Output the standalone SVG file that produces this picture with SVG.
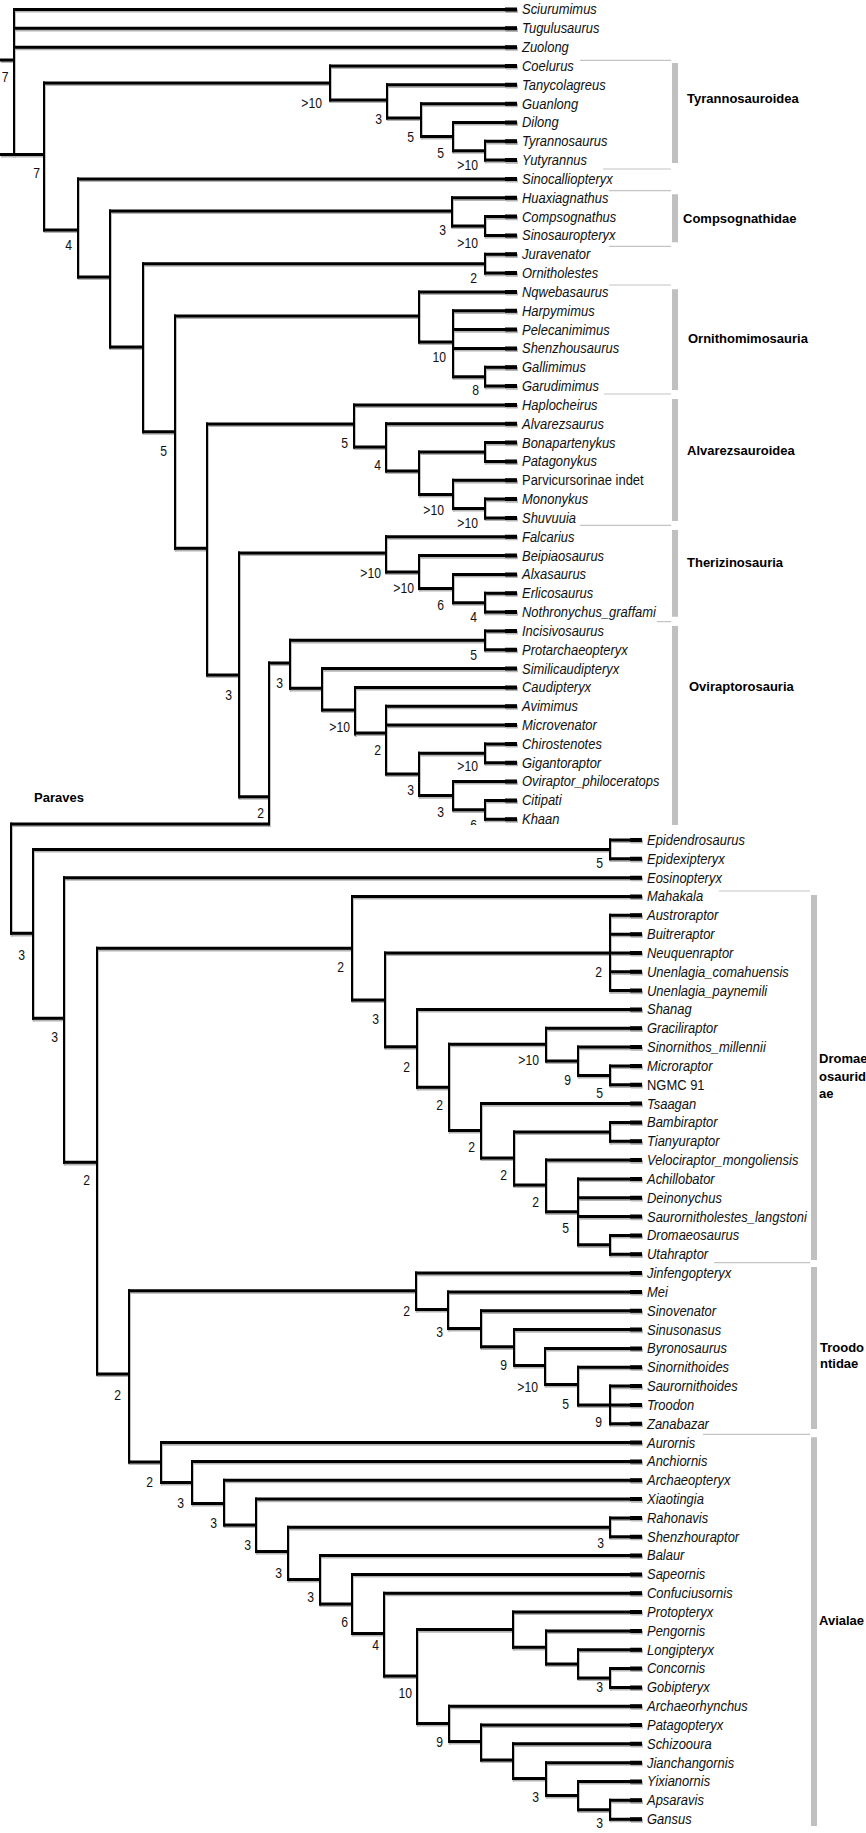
<svg xmlns="http://www.w3.org/2000/svg" xmlns:xlink="http://www.w3.org/1999/xlink" width="866" height="1833" viewBox="0 0 866 1833">
<style>
.t{font-family:"Liberation Sans",Arial,sans-serif;font-size:14.4px;font-style:italic;fill:#111}
.tn{font-style:normal}
.n{font-family:"Liberation Sans",Arial,sans-serif;font-size:14px;text-anchor:end;fill:#111}
.g{font-family:"Liberation Sans",Arial,sans-serif;font-size:13px;font-weight:bold;fill:#000}
.h{stroke-width:3;fill:none}
.e{stroke-width:4;fill:none}
.v{stroke-width:2;fill:none}
.br{stroke:#c0c0c0;stroke-width:6;fill:none}
.thin{stroke:#c4c4c4;stroke-width:1.2;fill:none}
</style>
<defs>
<clipPath id="topclip"><rect x="0" y="0" width="866" height="825"/></clipPath>
</defs>
<rect width="866" height="1833" fill="#fff"/>

<use xlink:href="#connectors" href="#connectors" transform="translate(0.8,1.6)" stroke="#b4b4b4"/>
<g stroke="#000">
<g id="connectors">
<path class="h" d="M0 60H14M13 9.5H517M13 28.3H517M13 47.2H517M0 154.5H44M43 83H330M43 230H78M329 66H517M329 100H387M386 84.8H517M386 118H421M420 103.7H517M420 136.5H453M452 122.5H517M452 150.7H485M484 141.3H517M484 160.1H517"/>
<path class="v" d="M14 8V156M44 81.5V231.5M330 64.5V101.5M387 83.3V119.5M421 102.2V138M453 121V152.2M485 139.8V161.6"/>
<path class="h" d="M77 179H517M77 277H110M109 211H452M109 347H143M451 197.8H517M451 226H485M484 216.6H517M484 235.5H517M142 263.7H485M142 431.7H175M484 254.3H517M484 273.1H517"/>
<path class="v" d="M78 177.5V278.5M110 209.5V348.5M452 196.3V227.5M485 215.1V237M143 262.2V433.2M485 252.8V274.6"/>
<path class="h" d="M174 316H419M174 548.3H207M418 291.9H517M418 342H453M452 310.8H517M452 329.6H517M452 348.4H517M452 376.7H485M484 367.3H517M484 386.1H517"/>
<path class="v" d="M175 314.5V549.8M419 290.4V343.5M453 309.3V378.2M485 365.8V387.6"/>
<path class="h" d="M206 424H354M206 675H239M353 404.9H517M353 447H386M385 423.8H517M385 471H419M418 452H485M418 494.4H453M484 442.6H517M484 461.4H517M452 480.3H517M452 508.5H485M484 499.1H517M484 517.9H517"/>
<path class="v" d="M207 422.5V676.5M354 403.4V448.5M386 422.3V472.5M419 450.5V495.9M485 441.1V462.9M453 478.8V510M485 497.6V519.4"/>
<path class="h" d="M238 553H386M238 796.7H269M385 536.7H517M385 572H419M418 555.6H517M418 588.5H453M452 574.4H517M452 602.7H485M484 593.2H517M484 612.1H517"/>
<path class="v" d="M239 551.5V798.2M386 535.2V573.5M419 554.1V590M453 572.9V604.2M485 591.7V613.6"/>
<path class="h" d="M268 663H290M11 824H269M289 640.3H485M289 688.3H322M484 630.9H517M484 649.7H517M321 668.6H517M321 710H355M354 687.4H517M354 733H386M385 706.2H517M385 725H517M385 774H419M418 753.3H485M418 795.6H453M484 743.9H517M484 762.7H517M452 781.5H517M452 809.8H485M484 800.4H517M484 819.2H517"/>
<path class="v" d="M269 661.5V825.5M290 638.8V689.8M485 629.4V651.2M322 667.1V711.5M355 685.9V735.5M386 704.7V775.5M419 751.8V797.1M485 742.4V764.2M453 780V811.3M485 798.9V820.7"/>
<path class="h" d="M10 933.3H33M32 849.4H610M32 1018.3H64M609 840H642M609 858.8H642M63 877.7H642M63 1162.3H97M96 948.3H352M96 1374H129"/>
<path class="v" d="M11 822.5V934.8M33 848V1019.8M610 838.5V860.3M64 876.2V1163.8M97 946.8V1375.5"/>
<path class="h" d="M351 896.5H642M351 1000H385M384 953H610M384 1046.7H417M609 915.3H642M609 934.2H642M609 953H642M609 971.8H642M609 990.6H642M416 1009.5H642M416 1087.3H449M448 1044.2H546M448 1130.5H481M545 1028.3H642M545 1061H578M577 1047.1H642M577 1075.4H610M609 1066H642M609 1084.8H642M480 1103.6H642M480 1158H514M513 1131.9H610M513 1185H546M609 1122.5H642M609 1141.3H642M545 1160.1H642M545 1211.8H578M577 1178.9H642M577 1197.8H642M577 1216.6H642M577 1244.8H610M609 1235.4H642M609 1254.3H642"/>
<path class="v" d="M352 895V1001.5M385 951.5V1048.2M610 913.8V992.1M417 1008V1088.8M449 1042.7V1132M546 1026.8V1062.5M578 1045.6V1076.9M610 1064.5V1086.3M481 1102.1V1159.5M514 1130.4V1186.5M610 1121V1142.8M546 1158.6V1213.3M578 1177.4V1246.3M610 1233.9V1255.8"/>
<path class="h" d="M128 1290.7H416M128 1462H161M415 1273.1H642M415 1309.5H448M447 1291.9H642M447 1328.5H481M480 1310.8H642M480 1346.8H514M513 1329.6H642M513 1365.5H545M544 1348.4H642M544 1384.5H578M577 1367.2H642M577 1404.9H610M609 1386.1H642M609 1404.9H642M609 1423.7H642"/>
<path class="v" d="M129 1289.2V1463.5M416 1271.6V1311M448 1290.4V1330M481 1309.3V1348.3M514 1328.1V1367M545 1346.9V1386M578 1365.7V1406.4M610 1384.6V1425.2"/>
<path class="h" d="M160 1442.6H642M160 1482.5H192M191 1461.4H642M191 1503.5H224M223 1480.2H642M223 1525H256M255 1499.1H642M255 1551.5H288M287 1527.3H610M287 1579.5H320M609 1517.9H642M609 1536.7H642M319 1555.5H642M319 1604H352M351 1574.4H642M351 1633.5H384M383 1593.2H642M383 1676H417M416 1629.6H513M416 1723.5H449M512 1612H642M512 1647.3H546M545 1630.9H642M545 1664H578M577 1649.7H642M577 1678H610M609 1668.5H642M609 1687.4H642M448 1706.2H642M448 1741.5H481M480 1725H642M480 1760H513M512 1743.8H642M512 1778.5H546M545 1762.7H642M545 1795.5H578M577 1781.5H642M577 1809.8H610M609 1800.3H642M609 1819.2H642"/>
<path class="v" d="M161 1441.1V1484M192 1459.9V1505M224 1478.7V1526.5M256 1497.6V1553M288 1525.8V1581M610 1516.4V1538.2M320 1554V1605.5M352 1572.9V1635M384 1591.7V1677.5M417 1628.1V1725M513 1610.5V1648.8M546 1629.4V1665.5M578 1648.2V1679.5M610 1667V1688.9M449 1704.7V1743M481 1723.5V1761.5M513 1742.3V1780M546 1761.2V1797M578 1780V1811.3M610 1798.8V1820.7"/>
<path class="e" d="M505 9.5h12M505 28.3h12M505 47.2h12M505 66h12M505 84.8h12M505 103.7h12M505 122.5h12M505 141.3h12M505 160.1h12M505 179h12M505 197.8h12M505 216.6h12M505 235.5h12M505 254.3h12M505 273.1h12M505 291.9h12M505 310.8h12M505 329.6h12M505 348.4h12M505 367.3h12M505 386.1h12M505 404.9h12M505 423.8h12M505 442.6h12M505 461.4h12M505 480.3h12M505 499.1h12M505 517.9h12M505 536.7h12M505 555.6h12M505 574.4h12M505 593.2h12M505 612.1h12M505 630.9h12M505 649.7h12M505 668.6h12M505 687.4h12M505 706.2h12M505 725h12M505 743.9h12M505 762.7h12M505 781.5h12M505 800.4h12M505 819.2h12"/>
<path class="e" d="M630 840h12M630 858.8h12M630 877.7h12M630 896.5h12M630 915.3h12M630 934.2h12M630 953h12M630 971.8h12M630 990.6h12M630 1009.5h12M630 1028.3h12M630 1047.1h12M630 1066h12M630 1084.8h12M630 1103.6h12M630 1122.5h12M630 1141.3h12M630 1160.1h12M630 1178.9h12M630 1197.8h12M630 1216.6h12M630 1235.4h12M630 1254.3h12M630 1273.1h12M630 1291.9h12M630 1310.8h12M630 1329.6h12M630 1348.4h12M630 1367.2h12M630 1386.1h12M630 1404.9h12M630 1423.7h12M630 1442.6h12M630 1461.4h12M630 1480.2h12M630 1499.1h12M630 1517.9h12M630 1536.7h12M630 1555.5h12M630 1574.4h12M630 1593.2h12M630 1612h12M630 1630.9h12M630 1649.7h12M630 1668.5h12M630 1687.4h12M630 1706.2h12M630 1725h12M630 1743.8h12M630 1762.7h12M630 1781.5h12M630 1800.3h12M630 1819.2h12"/>
</g>
</g>

<g id="brackets">
<path class="thin" d="M580 60.3H671M603 169H671M609 190.7H671M609 246.3H671M609 285H671M604 394H671M580 525.3H671M657 621.7H671M719 891H810M714 1262.7H810M703 1434.3H810"/>
<path class="br" d="M675 63V163M675 194.3V242.3M675 289.3V390M675 399V521M675 530V616.7M675 626V825M814 895V1260M814 1267V1429M814 1437.3V1826"/>
</g>

<g id="clade-labels">
<g id="lbl-tyrannosauroidea"><text class="g" x="687" y="103">Tyrannosauroidea</text></g>
<g id="lbl-compsognathidae"><text class="g" x="683" y="223">Compsognathidae</text></g>
<g id="lbl-ornithomimosauria"><text class="g" x="688" y="343">Ornithomimosauria</text></g>
<g id="lbl-alvarezsauroidea"><text class="g" x="687" y="455">Alvarezsauroidea</text></g>
<g id="lbl-therizinosauria"><text class="g" x="687" y="567">Therizinosauria</text></g>
<g id="lbl-oviraptorosauria"><text class="g" x="689" y="691">Oviraptorosauria</text></g>
<g id="lbl-paraves"><text class="g" x="34" y="802">Paraves</text></g>
<g id="lbl-dromaeosauridae"><text class="g" x="819" y="1063">Dromae</text><text class="g" x="819" y="1081">osaurid</text><text class="g" x="819" y="1098">ae</text></g>
<g id="lbl-troodontidae"><text class="g" x="820" y="1352">Troodo</text><text class="g" x="820" y="1368">ntidae</text></g>
<g id="lbl-avialae"><text class="g" x="819" y="1625">Avialae</text></g>
</g>

<g id="support">
<g id="node-root"><text class="n" transform="translate(8.5 82) scale(.87 1)">7</text></g>
<g id="node-F"><text class="n" transform="translate(40 178) scale(.87 1)">7</text></g>
<g id="node-A"><text class="n" transform="translate(322 108) scale(.87 1)">&gt;10</text></g>
<g id="node-B"><text class="n" transform="translate(382 124) scale(.87 1)">3</text></g>
<g id="node-C"><text class="n" transform="translate(414 142) scale(.87 1)">5</text></g>
<g id="node-D"><text class="n" transform="translate(444 158) scale(.87 1)">5</text></g>
<g id="node-E"><text class="n" transform="translate(478 170) scale(.87 1)">&gt;10</text></g>
<g id="node-G"><text class="n" transform="translate(72 250) scale(.87 1)">4</text></g>
<g id="node-I"><text class="n" transform="translate(446 235) scale(.87 1)">3</text></g>
<g id="node-J"><text class="n" transform="translate(478 248) scale(.87 1)">&gt;10</text></g>
<g id="node-L"><text class="n" transform="translate(477 283) scale(.87 1)">2</text></g>
<g id="node-M"><text class="n" transform="translate(167 456) scale(.87 1)">5</text></g>
<g id="node-O"><text class="n" transform="translate(446 362) scale(.87 1)">10</text></g>
<g id="node-P"><text class="n" transform="translate(479 395) scale(.87 1)">8</text></g>
<g id="node-R"><text class="n" transform="translate(348 448) scale(.87 1)">5</text></g>
<g id="node-S"><text class="n" transform="translate(381 470) scale(.87 1)">4</text></g>
<g id="node-V"><text class="n" transform="translate(444 515) scale(.87 1)">&gt;10</text></g>
<g id="node-W"><text class="n" transform="translate(478 528) scale(.87 1)">&gt;10</text></g>
<g id="node-X"><text class="n" transform="translate(232 700) scale(.87 1)">3</text></g>
<g id="node-Z"><text class="n" transform="translate(381 578) scale(.87 1)">&gt;10</text></g>
<g id="node-AA"><text class="n" transform="translate(414 593) scale(.87 1)">&gt;10</text></g>
<g id="node-AB"><text class="n" transform="translate(444 610) scale(.87 1)">6</text></g>
<g id="node-AC"><text class="n" transform="translate(477 622) scale(.87 1)">4</text></g>
<g id="node-Y"><text class="n" transform="translate(264 818) scale(.87 1)">2</text></g>
<g id="node-AD"><text class="n" transform="translate(283 688) scale(.87 1)">3</text></g>
<g id="node-AE"><text class="n" transform="translate(477 660) scale(.87 1)">5</text></g>
<g id="node-AG"><text class="n" transform="translate(350 732) scale(.87 1)">&gt;10</text></g>
<g id="node-AH"><text class="n" transform="translate(381 755) scale(.87 1)">2</text></g>
<g id="node-AI"><text class="n" transform="translate(414 795) scale(.87 1)">3</text></g>
<g id="node-AJ"><text class="n" transform="translate(478 771) scale(.87 1)">&gt;10</text></g>
<g id="node-AK"><text class="n" transform="translate(444 817) scale(.87 1)">3</text></g>
<g id="node-AL" clip-path="url(#topclip)"><text class="n" transform="translate(477 830) scale(.87 1)">6</text></g>
<g id="node-PB"><text class="n" transform="translate(25 960) scale(.87 1)">3</text></g>
<g id="node-PC"><text class="n" transform="translate(603 868) scale(.87 1)">5</text></g>
<g id="node-PD"><text class="n" transform="translate(58 1042) scale(.87 1)">3</text></g>
<g id="node-PE"><text class="n" transform="translate(90 1185) scale(.87 1)">2</text></g>
<g id="node-PF"><text class="n" transform="translate(344 972) scale(.87 1)">2</text></g>
<g id="node-PH"><text class="n" transform="translate(379 1024) scale(.87 1)">3</text></g>
<g id="node-PI"><text class="n" transform="translate(602 977) scale(.87 1)">2</text></g>
<g id="node-PJ"><text class="n" transform="translate(410 1072) scale(.87 1)">2</text></g>
<g id="node-PK"><text class="n" transform="translate(443 1110) scale(.87 1)">2</text></g>
<g id="node-PL"><text class="n" transform="translate(539 1065) scale(.87 1)">&gt;10</text></g>
<g id="node-PN"><text class="n" transform="translate(571 1085) scale(.87 1)">9</text></g>
<g id="node-PO"><text class="n" transform="translate(603 1098) scale(.87 1)">5</text></g>
<g id="node-PM"><text class="n" transform="translate(475 1152) scale(.87 1)">2</text></g>
<g id="node-PP"><text class="n" transform="translate(507 1180) scale(.87 1)">2</text></g>
<g id="node-PR"><text class="n" transform="translate(539 1207) scale(.87 1)">2</text></g>
<g id="node-PS"><text class="n" transform="translate(569 1233) scale(.87 1)">5</text></g>
<g id="node-PG"><text class="n" transform="translate(121 1400) scale(.87 1)">2</text></g>
<g id="node-PU"><text class="n" transform="translate(410 1316) scale(.87 1)">2</text></g>
<g id="node-PW"><text class="n" transform="translate(443 1337) scale(.87 1)">3</text></g>
<g id="node-PY"><text class="n" transform="translate(507 1370) scale(.87 1)">9</text></g>
<g id="node-PZ"><text class="n" transform="translate(538 1392) scale(.87 1)">&gt;10</text></g>
<g id="node-QA"><text class="n" transform="translate(569 1409) scale(.87 1)">5</text></g>
<g id="node-QB"><text class="n" transform="translate(602 1427) scale(.87 1)">9</text></g>
<g id="node-PV"><text class="n" transform="translate(153 1487) scale(.87 1)">2</text></g>
<g id="node-QC"><text class="n" transform="translate(184 1508) scale(.87 1)">3</text></g>
<g id="node-QD"><text class="n" transform="translate(217 1528) scale(.87 1)">3</text></g>
<g id="node-QE"><text class="n" transform="translate(251 1550) scale(.87 1)">3</text></g>
<g id="node-QF"><text class="n" transform="translate(282 1578) scale(.87 1)">3</text></g>
<g id="node-QG"><text class="n" transform="translate(604 1548) scale(.87 1)">3</text></g>
<g id="node-QH"><text class="n" transform="translate(314 1602) scale(.87 1)">3</text></g>
<g id="node-QI"><text class="n" transform="translate(348 1627) scale(.87 1)">6</text></g>
<g id="node-QJ"><text class="n" transform="translate(379 1650) scale(.87 1)">4</text></g>
<g id="node-QK"><text class="n" transform="translate(412 1698) scale(.87 1)">10</text></g>
<g id="node-QP"><text class="n" transform="translate(603 1692) scale(.87 1)">3</text></g>
<g id="node-QM"><text class="n" transform="translate(443 1747) scale(.87 1)">9</text></g>
<g id="node-QS"><text class="n" transform="translate(539 1802) scale(.87 1)">3</text></g>
<g id="node-QU"><text class="n" transform="translate(603 1828) scale(.87 1)">3</text></g>
</g>

<g id="leaves">
<g transform="translate(522 0) scale(0.9 1)">
<g id="leaf-sciurumimus"><text class="t" x="0" y="14.5">Sciurumimus</text></g>
<g id="leaf-tugulusaurus"><text class="t" x="0" y="33.3">Tugulusaurus</text></g>
<g id="leaf-zuolong"><text class="t" x="0" y="52.2">Zuolong</text></g>
<g id="leaf-coelurus"><text class="t" x="0" y="71">Coelurus</text></g>
<g id="leaf-tanycolagreus"><text class="t" x="0" y="89.8">Tanycolagreus</text></g>
<g id="leaf-guanlong"><text class="t" x="0" y="108.7">Guanlong</text></g>
<g id="leaf-dilong"><text class="t" x="0" y="127.5">Dilong</text></g>
<g id="leaf-tyrannosaurus"><text class="t" x="0" y="146.3">Tyrannosaurus</text></g>
<g id="leaf-yutyrannus"><text class="t" x="0" y="165.1">Yutyrannus</text></g>
<g id="leaf-sinocalliopteryx"><text class="t" x="0" y="184">Sinocalliopteryx</text></g>
<g id="leaf-huaxiagnathus"><text class="t" x="0" y="202.8">Huaxiagnathus</text></g>
<g id="leaf-compsognathus"><text class="t" x="0" y="221.6">Compsognathus</text></g>
<g id="leaf-sinosauropteryx"><text class="t" x="0" y="240.5">Sinosauropteryx</text></g>
<g id="leaf-juravenator"><text class="t" x="0" y="259.3">Juravenator</text></g>
<g id="leaf-ornitholestes"><text class="t" x="0" y="278.1">Ornitholestes</text></g>
<g id="leaf-nqwebasaurus"><text class="t" x="0" y="296.9">Nqwebasaurus</text></g>
<g id="leaf-harpymimus"><text class="t" x="0" y="315.8">Harpymimus</text></g>
<g id="leaf-pelecanimimus"><text class="t" x="0" y="334.6">Pelecanimimus</text></g>
<g id="leaf-shenzhousaurus"><text class="t" x="0" y="353.4">Shenzhousaurus</text></g>
<g id="leaf-gallimimus"><text class="t" x="0" y="372.3">Gallimimus</text></g>
<g id="leaf-garudimimus"><text class="t" x="0" y="391.1">Garudimimus</text></g>
<g id="leaf-haplocheirus"><text class="t" x="0" y="409.9">Haplocheirus</text></g>
<g id="leaf-alvarezsaurus"><text class="t" x="0" y="428.8">Alvarezsaurus</text></g>
<g id="leaf-bonapartenykus"><text class="t" x="0" y="447.6">Bonapartenykus</text></g>
<g id="leaf-patagonykus"><text class="t" x="0" y="466.4">Patagonykus</text></g>
<g id="leaf-parvicursorinae"><text class="t tn" x="0" y="485.3">Parvicursorinae indet</text></g>
<g id="leaf-mononykus"><text class="t" x="0" y="504.1">Mononykus</text></g>
<g id="leaf-shuvuuia"><text class="t" x="0" y="522.9">Shuvuuia</text></g>
<g id="leaf-falcarius"><text class="t" x="0" y="541.7">Falcarius</text></g>
<g id="leaf-beipiaosaurus"><text class="t" x="0" y="560.6">Beipiaosaurus</text></g>
<g id="leaf-alxasaurus"><text class="t" x="0" y="579.4">Alxasaurus</text></g>
<g id="leaf-erlicosaurus"><text class="t" x="0" y="598.2">Erlicosaurus</text></g>
<g id="leaf-nothronychus"><text class="t" x="0" y="617.1">Nothronychus_graffami</text></g>
<g id="leaf-incisivosaurus"><text class="t" x="0" y="635.9">Incisivosaurus</text></g>
<g id="leaf-protarchaeopteryx"><text class="t" x="0" y="654.7">Protarchaeopteryx</text></g>
<g id="leaf-similicaudipteryx"><text class="t" x="0" y="673.6">Similicaudipteryx</text></g>
<g id="leaf-caudipteryx"><text class="t" x="0" y="692.4">Caudipteryx</text></g>
<g id="leaf-avimimus"><text class="t" x="0" y="711.2">Avimimus</text></g>
<g id="leaf-microvenator"><text class="t" x="0" y="730">Microvenator</text></g>
<g id="leaf-chirostenotes"><text class="t" x="0" y="748.9">Chirostenotes</text></g>
<g id="leaf-gigantoraptor"><text class="t" x="0" y="767.7">Gigantoraptor</text></g>
<g id="leaf-oviraptor"><text class="t" x="0" y="786.5">Oviraptor_philoceratops</text></g>
<g id="leaf-citipati"><text class="t" x="0" y="805.4">Citipati</text></g>
<g id="leaf-khaan"><text class="t" x="0" y="824.2">Khaan</text></g>
</g>
<g transform="translate(647 0) scale(0.9 1)">
<g id="leaf-epidendrosaurus"><text class="t" x="0" y="845">Epidendrosaurus</text></g>
<g id="leaf-epidexipteryx"><text class="t" x="0" y="863.8">Epidexipteryx</text></g>
<g id="leaf-eosinopteryx"><text class="t" x="0" y="882.7">Eosinopteryx</text></g>
<g id="leaf-mahakala"><text class="t" x="0" y="901.5">Mahakala</text></g>
<g id="leaf-austroraptor"><text class="t" x="0" y="920.3">Austroraptor</text></g>
<g id="leaf-buitreraptor"><text class="t" x="0" y="939.2">Buitreraptor</text></g>
<g id="leaf-neuquenraptor"><text class="t" x="0" y="958">Neuquenraptor</text></g>
<g id="leaf-unenlagia-c"><text class="t" x="0" y="976.8">Unenlagia_comahuensis</text></g>
<g id="leaf-unenlagia-p"><text class="t" x="0" y="995.6">Unenlagia_paynemili</text></g>
<g id="leaf-shanag"><text class="t" x="0" y="1014.5">Shanag</text></g>
<g id="leaf-graciliraptor"><text class="t" x="0" y="1033.3">Graciliraptor</text></g>
<g id="leaf-sinornithos"><text class="t" x="0" y="1052.1">Sinornithos_millennii</text></g>
<g id="leaf-microraptor"><text class="t" x="0" y="1071">Microraptor</text></g>
<g id="leaf-ngmc91"><text class="t tn" x="0" y="1089.8">NGMC 91</text></g>
<g id="leaf-tsaagan"><text class="t" x="0" y="1108.6">Tsaagan</text></g>
<g id="leaf-bambiraptor"><text class="t" x="0" y="1127.5">Bambiraptor</text></g>
<g id="leaf-tianyuraptor"><text class="t" x="0" y="1146.3">Tianyuraptor</text></g>
<g id="leaf-velociraptor"><text class="t" x="0" y="1165.1">Velociraptor_mongoliensis</text></g>
<g id="leaf-achillobator"><text class="t" x="0" y="1183.9">Achillobator</text></g>
<g id="leaf-deinonychus"><text class="t" x="0" y="1202.8">Deinonychus</text></g>
<g id="leaf-saurornitholestes"><text class="t" x="0" y="1221.6">Saurornitholestes_langstoni</text></g>
<g id="leaf-dromaeosaurus"><text class="t" x="0" y="1240.4">Dromaeosaurus</text></g>
<g id="leaf-utahraptor"><text class="t" x="0" y="1259.3">Utahraptor</text></g>
<g id="leaf-jinfengopteryx"><text class="t" x="0" y="1278.1">Jinfengopteryx</text></g>
<g id="leaf-mei"><text class="t" x="0" y="1296.9">Mei</text></g>
<g id="leaf-sinovenator"><text class="t" x="0" y="1315.8">Sinovenator</text></g>
<g id="leaf-sinusonasus"><text class="t" x="0" y="1334.6">Sinusonasus</text></g>
<g id="leaf-byronosaurus"><text class="t" x="0" y="1353.4">Byronosaurus</text></g>
<g id="leaf-sinornithoides"><text class="t" x="0" y="1372.2">Sinornithoides</text></g>
<g id="leaf-saurornithoides"><text class="t" x="0" y="1391.1">Saurornithoides</text></g>
<g id="leaf-troodon"><text class="t" x="0" y="1409.9">Troodon</text></g>
<g id="leaf-zanabazar"><text class="t" x="0" y="1428.7">Zanabazar</text></g>
<g id="leaf-aurornis"><text class="t" x="0" y="1447.6">Aurornis</text></g>
<g id="leaf-anchiornis"><text class="t" x="0" y="1466.4">Anchiornis</text></g>
<g id="leaf-archaeopteryx"><text class="t" x="0" y="1485.2">Archaeopteryx</text></g>
<g id="leaf-xiaotingia"><text class="t" x="0" y="1504.1">Xiaotingia</text></g>
<g id="leaf-rahonavis"><text class="t" x="0" y="1522.9">Rahonavis</text></g>
<g id="leaf-shenzhouraptor"><text class="t" x="0" y="1541.7">Shenzhouraptor</text></g>
<g id="leaf-balaur"><text class="t" x="0" y="1560.5">Balaur</text></g>
<g id="leaf-sapeornis"><text class="t" x="0" y="1579.4">Sapeornis</text></g>
<g id="leaf-confuciusornis"><text class="t" x="0" y="1598.2">Confuciusornis</text></g>
<g id="leaf-protopteryx"><text class="t" x="0" y="1617">Protopteryx</text></g>
<g id="leaf-pengornis"><text class="t" x="0" y="1635.9">Pengornis</text></g>
<g id="leaf-longipteryx"><text class="t" x="0" y="1654.7">Longipteryx</text></g>
<g id="leaf-concornis"><text class="t" x="0" y="1673.5">Concornis</text></g>
<g id="leaf-gobipteryx"><text class="t" x="0" y="1692.4">Gobipteryx</text></g>
<g id="leaf-archaeorhynchus"><text class="t" x="0" y="1711.2">Archaeorhynchus</text></g>
<g id="leaf-patagopteryx"><text class="t" x="0" y="1730">Patagopteryx</text></g>
<g id="leaf-schizooura"><text class="t" x="0" y="1748.8">Schizooura</text></g>
<g id="leaf-jianchangornis"><text class="t" x="0" y="1767.7">Jianchangornis</text></g>
<g id="leaf-yixianornis"><text class="t" x="0" y="1786.5">Yixianornis</text></g>
<g id="leaf-apsaravis"><text class="t" x="0" y="1805.3">Apsaravis</text></g>
<g id="leaf-gansus"><text class="t" x="0" y="1824.2">Gansus</text></g>
</g>
</g>
</svg>
